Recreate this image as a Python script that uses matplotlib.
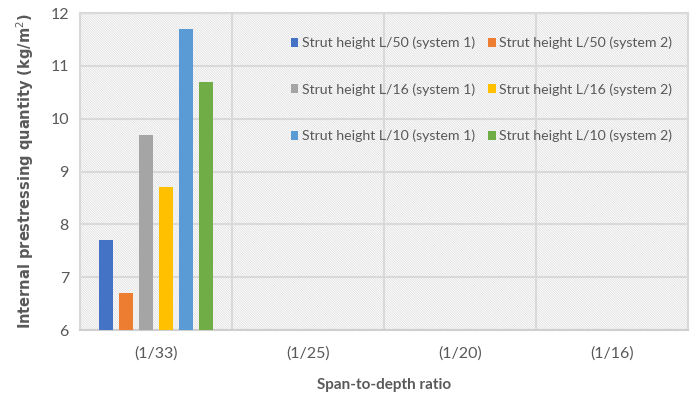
import matplotlib
matplotlib.use("Agg")
import matplotlib.pyplot as plt
from matplotlib.patches import Rectangle
import numpy as np

plt.rcParams["font.family"] = ["Lato", "DejaVu Sans"]
plt.rcParams["hatch.linewidth"] = 0.5

categories = ["(1/33)", "(1/25)", "(1/20)", "(1/16)"]
series_names = [
    "Strut height L/50 (system 1)",
    "Strut height L/50 (system 2)",
    "Strut height L/16 (system 1)",
    "Strut height L/16 (system 2)",
    "Strut height L/10 (system 1)",
    "Strut height L/10 (system 2)",
]
# only the first ratio has values
series_values = [
    [7.7, np.nan, np.nan, np.nan],
    [6.7, np.nan, np.nan, np.nan],
    [9.7, np.nan, np.nan, np.nan],
    [8.7, np.nan, np.nan, np.nan],
    [11.7, np.nan, np.nan, np.nan],
    [10.7, np.nan, np.nan, np.nan],
]
colors = ["#4472c4", "#ed7d31", "#a5a5a5", "#ffc000", "#5b9bd5", "#70ad47"]

text_col = "#595959"
grid_col = "#d9d9d9"

fig = plt.figure(figsize=(6.97, 3.98), dpi=100)
ax = fig.add_axes([80 / 697, 68 / 398, 608 / 697, 317 / 398])

# hatched plot area
ax.add_patch(Rectangle((0, 0), 1, 1, transform=ax.transAxes, facecolor="white",
                       edgecolor="#dadada", hatch="\\" * 14, linewidth=0.0, zorder=0))

x = np.arange(len(categories))
step = 0.132
width = 0.092
n = len(series_names)
bars = []
for i, (name, vals, c) in enumerate(zip(series_names, series_values, colors)):
    offs = (i - (n - 1) / 2) * step
    b = ax.bar(x + offs, np.array(vals) - 6, width=width, bottom=6, color=c, label=name, zorder=3)
    bars.append(b)

ax.set_xlim(-0.5, len(categories) - 0.5)
ax.set_ylim(6, 12)
ax.set_yticks(range(6, 13))
ax.set_xticks(x)
ax.set_xticklabels(categories)
ax.set_xticks(np.arange(len(categories) + 1) - 0.5, minor=True)

ax.grid(axis="y", which="major", color=grid_col, linewidth=1.5, zorder=1)
ax.grid(axis="x", which="minor", color=grid_col, linewidth=1.5, zorder=1)
ax.set_axisbelow(True)
for s in ax.spines.values():
    s.set_color(grid_col)
    s.set_linewidth(1.5)
ax.spines["bottom"].set_color("#cfcfcf")

ax.tick_params(axis="both", which="both", length=0, colors=text_col, labelsize=11.5)
ax.tick_params(axis="x", pad=12)
ax.tick_params(axis="y", pad=8)

ax.set_xlabel("Span-to-depth ratio", color=text_col, fontsize=11, fontweight="bold", labelpad=12)
ax.set_ylabel("Internal prestressing quantity (kg/m$^2$)", color=text_col, fontsize=10.5,
              fontweight="bold", family=["DejaVu Sans"], labelpad=10)

# legend filled row by row
order = [0, 2, 4, 1, 3, 5]
leg = ax.legend([bars[k] for k in order], [series_names[k] for k in order],
                ncol=2, loc="upper right", bbox_to_anchor=(0.995, 0.965), frameon=False,
                fontsize=10.2, handlelength=0.55, handleheight=0.6, handletextpad=0.25,
                columnspacing=0.9, labelspacing=2.4)
for t in leg.get_texts():
    t.set_color(text_col)

fig.savefig("out.png", dpi=100)
